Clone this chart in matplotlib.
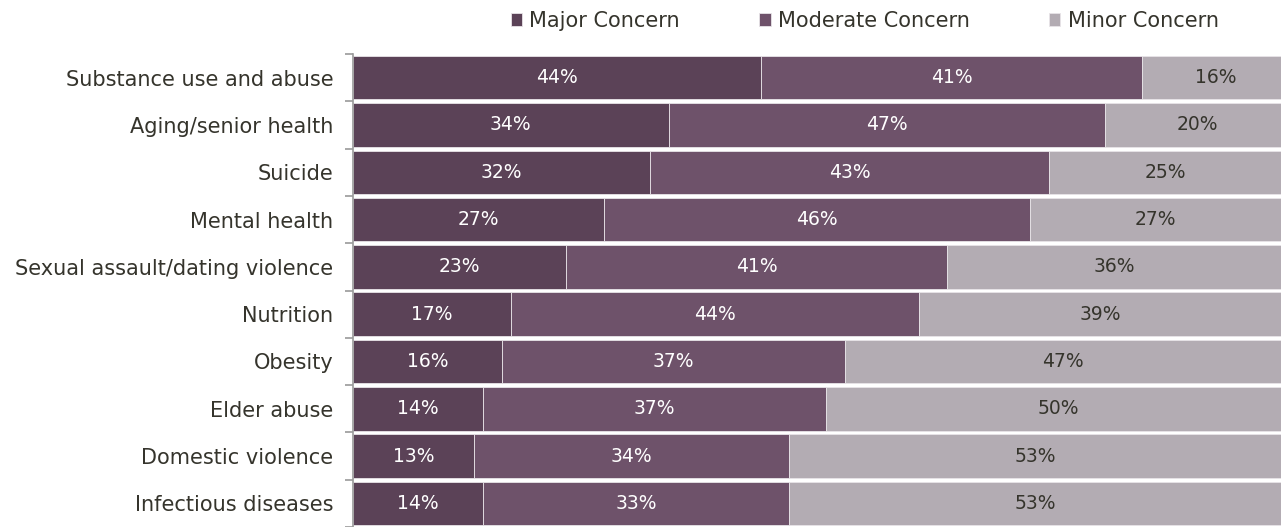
import matplotlib.pyplot as plt
import numpy as np

# Survey results: share of respondents rating each issue
issues = ['Substance use and abuse', 'Aging/senior health', 'Suicide', 'Mental health',
          'Sexual assault/dating violence', 'Nutrition', 'Obesity', 'Elder abuse',
          'Domestic violence', 'Infectious diseases']
major = [44, 34, 32, 27, 23, 17, 16, 14, 13, 14]
moderate = [41, 47, 43, 46, 41, 44, 37, 37, 34, 33]
minor = [16, 20, 25, 27, 36, 39, 47, 50, 53, 53]
series_names = ['Major Concern', 'Moderate Concern', 'Minor Concern']

colors = ['#5b4257', '#6e526a', '#b3acb3']
text_colors = ['white', 'white', '#35342c']
dark_text = '#35342c'

fig = plt.figure(figsize=(12.81, 5.27), dpi=100)
ax = fig.add_axes([0.2756, 0.0, 0.7244, 0.8975])

y = np.arange(len(issues))
left = np.zeros(len(issues))
for vals, name, col, tcol in zip([major, moderate, minor], series_names, colors, text_colors):
    vals = np.array(vals, dtype=float)
    bars = ax.barh(y, vals, left=left, height=0.92, color=col, edgecolor='#e8e4e8',
                   linewidth=0.6, label=name)
    for b, v in zip(bars, vals):
        ax.text(b.get_x() + b.get_width() / 2, b.get_y() + b.get_height() / 2, f'{v:.0f}%',
                ha='center', va='center', color=tcol, fontsize=13.5)
    left += vals

ax.set_xlim(0, 100)
ax.set_ylim(len(issues) - 0.5, -0.5)
ax.set_yticks(y)
ax.set_yticklabels(issues, fontsize=15, color=dark_text)
ax.set_yticks(np.arange(len(issues) + 1) - 0.5, minor=True)
ax.tick_params(axis='y', which='major', length=0, pad=14)
ax.tick_params(axis='y', which='minor', length=6, color='#9a9a9a', width=1.2)
ax.set_xticks([])
for s in ['top', 'right', 'bottom']:
    ax.spines[s].set_visible(False)
ax.spines['left'].set_color('#9a9a9a')
ax.spines['left'].set_linewidth(1.2)

fig.legend(loc='upper center', bbox_to_anchor=(0.675, 1.015), ncol=3, frameon=False,
           fontsize=15, handlelength=0.55, handleheight=0.55, handletextpad=0.35,
           columnspacing=3.8, labelcolor=dark_text)

fig.savefig('out.png', dpi=100)
